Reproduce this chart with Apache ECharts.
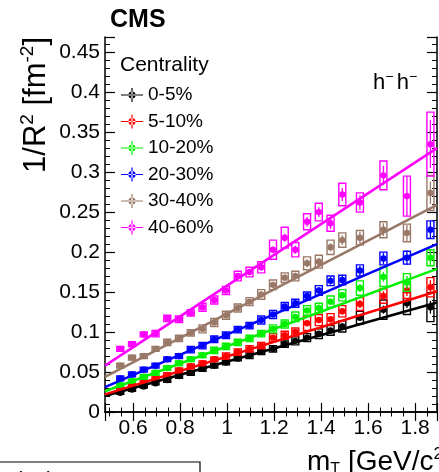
<!DOCTYPE html>
<html><head><meta charset="utf-8">
<script src="https://cdn.jsdelivr.net/npm/echarts@6/dist/echarts.min.js"></script>
<style>html,body{margin:0;padding:0;background:#fff}#c{width:439px;height:472px}</style>
</head><body><div id="c"></div>
<script>
// ---------- data ----------
const mT = [0.545,0.595,0.645,0.695,0.745,0.795,0.845,0.895,0.945,0.995,1.045,1.095,1.145,1.195,1.245,1.29,1.34,1.39,1.44,1.49,1.565,1.665,1.765,1.865];
const seriesNames = ['0-5%','5-10%','10-20%','20-30%','30-40%','40-60%'];
const colors = ['#000000','#ff0000','#00f000','#0000ff','#9a7868','#ff00ff'];

const v0_5   = [0.024,0.028,0.032,0.036,0.040,0.045,0.049,0.054,0.058,0.062,0.067,0.071,0.076,0.079,0.085,0.089,0.093,0.098,0.102,0.107,0.118,0.128,0.136,0.131];
const v5_10  = [0.028,0.033,0.037,0.042,0.046,0.052,0.057,0.061,0.066,0.070,0.075,0.079,0.083,0.093,0.096,0.100,0.111,0.115,0.116,0.126,0.135,0.145,0.152,0.156];
const v10_20 = [0.034,0.039,0.044,0.049,0.055,0.061,0.066,0.071,0.077,0.082,0.087,0.092,0.098,0.104,0.110,0.119,0.127,0.130,0.138,0.146,0.155,0.169,0.162,0.193];
const v20_30 = [0.042,0.047,0.053,0.058,0.066,0.070,0.078,0.083,0.091,0.096,0.103,0.108,0.115,0.122,0.132,0.136,0.145,0.152,0.164,0.165,0.177,0.192,0.193,0.228];
const v30_40 = [0.058,0.068,0.070,0.079,0.087,0.092,0.099,0.104,0.112,0.121,0.130,0.138,0.147,0.159,0.168,0.170,0.186,0.188,0.206,0.215,0.218,0.228,0.224,0.274];
const v40_60 = [0.079,0.085,0.097,0.098,0.117,0.116,0.124,0.131,0.140,0.152,0.170,0.175,0.181,0.203,0.218,0.203,0.238,0.250,0.236,0.272,0.262,0.296,0.270,0.335];

// systematic half-heights (boxes)
const s0_5   = [0.002,0.002,0.002,0.002,0.003,0.003,0.003,0.003,0.003,0.003,0.003,0.004,0.004,0.004,0.004,0.005,0.005,0.006,0.006,0.007,0.008,0.012,0.014,0.018];
const s5_10  = [0.002,0.002,0.002,0.003,0.003,0.003,0.003,0.003,0.003,0.004,0.004,0.004,0.004,0.005,0.005,0.005,0.009,0.007,0.007,0.007,0.008,0.009,0.010,0.012];
const s10_20 = [0.002,0.002,0.003,0.003,0.003,0.003,0.003,0.003,0.004,0.004,0.004,0.004,0.004,0.005,0.005,0.006,0.006,0.006,0.007,0.007,0.009,0.012,0.011,0.010];
const s20_30 = [0.003,0.003,0.003,0.003,0.003,0.003,0.004,0.004,0.004,0.004,0.004,0.004,0.005,0.005,0.005,0.005,0.005,0.006,0.006,0.006,0.007,0.008,0.008,0.011];
const s30_40 = [0.003,0.003,0.003,0.003,0.004,0.004,0.004,0.005,0.005,0.005,0.005,0.005,0.006,0.006,0.006,0.006,0.008,0.008,0.009,0.009,0.009,0.010,0.011,0.022];
const s40_60 = [0.003,0.003,0.003,0.004,0.004,0.004,0.004,0.005,0.005,0.005,0.006,0.006,0.007,0.012,0.013,0.009,0.010,0.011,0.010,0.014,0.012,0.018,0.025,0.040];

// statistical half-heights (error bars)
const e0_5   = [0.001,0.001,0.001,0.001,0.001,0.001,0.001,0.001,0.002,0.002,0.002,0.002,0.002,0.002,0.002,0.003,0.003,0.003,0.003,0.004,0.004,0.005,0.006,0.008];
const e5_10  = [0.001,0.001,0.001,0.001,0.001,0.001,0.001,0.002,0.002,0.002,0.002,0.002,0.002,0.003,0.003,0.003,0.003,0.003,0.004,0.004,0.005,0.006,0.007,0.009];
const e10_20 = [0.001,0.001,0.001,0.001,0.001,0.002,0.002,0.002,0.002,0.002,0.002,0.002,0.003,0.003,0.003,0.003,0.003,0.004,0.004,0.004,0.005,0.006,0.008,0.010];
const e20_30 = [0.001,0.001,0.001,0.002,0.002,0.002,0.002,0.002,0.002,0.002,0.003,0.003,0.003,0.003,0.003,0.004,0.004,0.004,0.005,0.005,0.006,0.007,0.009,0.011];
const e30_40 = [0.002,0.002,0.002,0.002,0.002,0.002,0.002,0.003,0.003,0.003,0.003,0.003,0.003,0.004,0.004,0.004,0.005,0.005,0.005,0.006,0.007,0.008,0.010,0.014];
const e40_60 = [0.002,0.002,0.002,0.002,0.002,0.002,0.003,0.003,0.003,0.003,0.003,0.004,0.004,0.004,0.005,0.005,0.006,0.006,0.007,0.008,0.009,0.012,0.025,0.030];

// linear fits: values at the two ends of the fit range
const fitX = [0.48, 1.893];
const fit0_5   = [0.020, 0.137];
const fit5_10  = [0.022, 0.151];
const fit10_20 = [0.026, 0.179];
const fit20_30 = [0.031, 0.210];
const fit30_40 = [0.044, 0.259];
const fit40_60 = [0.058, 0.330];

// ---------- chart ----------
const FONT = '"Liberation Sans", Arial, Helvetica, sans-serif';
const vals = [v0_5,v5_10,v10_20,v20_30,v30_40,v40_60];
const syss = [s0_5,s5_10,s10_20,s20_30,s30_40,s40_60];
const stats = [e0_5,e5_10,e10_20,e20_30,e30_40,e40_60];
const fits = [fit0_5,fit5_10,fit10_20,fit20_30,fit30_40,fit40_60];

function renderer(color){
  return function(params, api){
    const x = api.value(0), y = api.value(1), sy = api.value(2), st = api.value(3);
    const p = api.coord([x, y]);
    const t = api.coord([x, y + sy]), b = api.coord([x, y - sy]);
    const ts = api.coord([x, y + st]), bs = api.coord([x, y - st]);
    return {type:'group', children:[
      {type:'rect', shape:{x:p[0]-3.5, y:t[1], width:7, height:b[1]-t[1]}, style:{fill:'none', stroke:color, lineWidth:1.4}},
      {type:'line', shape:{x1:p[0], y1:ts[1], x2:p[0], y2:bs[1]}, style:{stroke:color, lineWidth:1.3}},
      {type:'circle', shape:{cx:p[0], cy:p[1], r:3.2}, style:{fill:color}}
    ]};
  };
}

const series = [];
seriesNames.forEach((name, k) => {
  series.push({
    name, type:'custom', clip:true, z:2,
    itemStyle:{color:colors[k]},
    encode:{x:0, y:1},
    renderItem: renderer(colors[k]),
    data: mT.map((x, i) => [x, vals[k][i], syss[k][i], stats[k][i]])
  });
});
seriesNames.forEach((name, k) => {
  series.push({
    name: name + ' fit', type:'line', symbol:'none', silent:true, clip:true, z:3,
    lineStyle:{color:colors[k], width:2.5},
    data: fitX.map((x, i) => [x, fits[k][i]])
  });
});

const axisCommonX = {
  type:'value', min:0.48, max:1.893, splitNumber:7, gridIndex:0,
  axisLine:{show:true, lineStyle:{color:'#000', width:1.5}},
  axisTick:{show:true, inside:true, length:9, lineStyle:{color:'#000', width:1.2}},
  minorTick:{show:true, splitNumber:4, length:4.5, lineStyle:{color:'#000', width:1}},
  splitLine:{show:false}
};
const axisCommonY = {
  type:'value', min:0, max:0.469, splitNumber:9, gridIndex:0,
  axisLine:{show:true, lineStyle:{color:'#000', width:1.5}},
  axisTick:{show:true, inside:true, length:10, lineStyle:{color:'#000', width:1.2}},
  minorTick:{show:true, splitNumber:5, length:5, lineStyle:{color:'#000', width:1}},
  splitLine:{show:false}
};

const iconPath = 'path://M0,6.4L22,6.4L22,7.6L0,7.6Z M10.4,0L11.6,0L11.6,14L10.4,14Z M7.4,7a3.6,3.6 0 1,0 7.2,0a3.6,3.6 0 1,0 -7.2,0Z';

const option = {
  animation:false,
  backgroundColor:'#fff',
  grid:{left:105, right:2, top:37, bottom:60, containLabel:false, outerBoundsMode:'none'},
  xAxis:[
    Object.assign({}, axisCommonX, {position:'bottom',
      axisLabel:{show:true, fontSize:21, color:'#000', fontFamily:FONT, margin:6, showMinLabel:false, showMaxLabel:false}}),
    Object.assign({}, axisCommonX, {position:'top', axisLabel:{show:false}})
  ],
  yAxis:[
    Object.assign({}, axisCommonY, {position:'left',
      axisLabel:{show:true, fontSize:21, color:'#000', fontFamily:FONT, margin:5, showMaxLabel:false}}),
    Object.assign({}, axisCommonY, {position:'right', axisLabel:{show:false}})
  ],
  legend:{
    data: seriesNames, orient:'vertical', left:121, top:85, padding:0, itemWidth:22, itemHeight:14, itemGap:6.5,
    icon: iconPath, selectedMode:false,
    textStyle:{fontSize:19, color:'#000', fontFamily:FONT, lineHeight:20}
  },
  graphic:[
    {type:'text', x:110, y:20, style:{text:'CMS', font:'bold 25px ' + FONT, fill:'#000', verticalAlign:'middle', align:'left'}},
    {type:'text', x:120, y:65, style:{text:'Centrality', font:'21px ' + FONT, fill:'#000', verticalAlign:'middle', align:'left'}},
    {type:'text', x:373, y:83, style:{
      text:'{a|h}{s|−} {a|h}{s|−}', fill:'#000', verticalAlign:'middle', align:'left',
      rich:{a:{fontSize:22, fontFamily:FONT, lineHeight:26, fill:'#000'}, s:{fontSize:14, fontFamily:FONT, lineHeight:14, verticalAlign:'top', fill:'#000'}}
    }},
    {type:'text', x:36, y:37, rotation:Math.PI/2, style:{
      text:'{a|1/R}{s|2}{a| [fm}{s|-2}{a|]}', fill:'#000', verticalAlign:'middle', align:'right',
      rich:{a:{fontSize:31, fontFamily:FONT, lineHeight:36, fill:'#000'}, s:{fontSize:19, fontFamily:FONT, lineHeight:19, verticalAlign:'top', fill:'#000'}}
    }},
    {type:'text', x:307, y:462, style:{
      text:'{a|m}{b|T}{a| [GeV/c}{s|2}{a|]}', fill:'#000', verticalAlign:'middle', align:'left',
      rich:{a:{fontSize:28, fontFamily:FONT, lineHeight:32, fill:'#000'}, b:{fontSize:16, fontFamily:FONT, lineHeight:16, verticalAlign:'bottom', fill:'#000'}, s:{fontSize:17, fontFamily:FONT, lineHeight:17, verticalAlign:'top', fill:'#000'}}
    }},
    {type:'rect', shape:{x:-2, y:462, width:202, height:30}, style:{fill:'none', stroke:'#000', lineWidth:1.2}},
    {type:'text', x:15, y:470, style:{text:'( a )', font:'22px ' + FONT, fill:'#000', verticalAlign:'top', align:'left'}}
  ],
  series
};

const chart = echarts.init(document.getElementById('c'), null, {renderer:'canvas'});
chart.setOption(option);
</script>
</body></html>
